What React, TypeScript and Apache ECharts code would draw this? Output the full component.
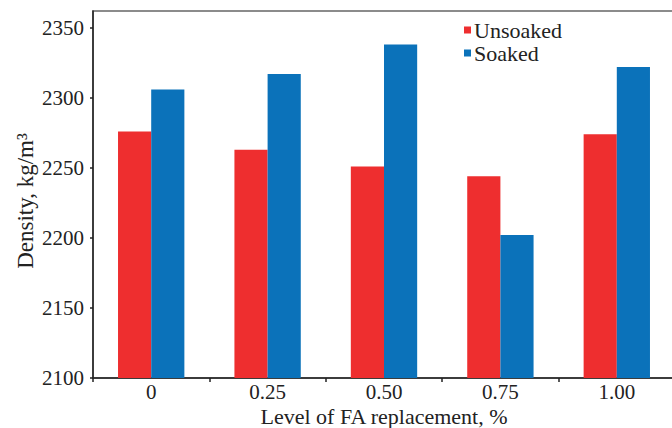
import React, { useEffect, useRef } from "react";
import * as echarts from "echarts";

const categories = ["0", "0.25", "0.50", "0.75", "1.00"];
const unsoaked = [2276, 2263, 2251, 2244, 2274];
const soaked = [2306, 2317, 2338, 2202, 2322];
const yTicks = [2100, 2150, 2200, 2250, 2300, 2350];

const FONT = "'Liberation Serif', 'DejaVu Serif', serif";

export default function App() {
  const ref = useRef<HTMLDivElement>(null);
  useEffect(() => {
    if (!ref.current) return;
    const chart = echarts.init(ref.current, null, { renderer: "svg" });
    chart.setOption({
      animation: false,
      backgroundColor: "#fff",
      textStyle: { fontFamily: FONT },
      grid: {
        left: 93,
        top: 11,
        width: 582,
        bottom: 50,
        outerBoundsMode: "none",
        containLabel: false,
        show: true,
        borderColor: "#666",
        borderWidth: 1.5,
        backgroundColor: "#fff",
      },
      legend: {
        orient: "vertical",
        left: 464,
        top: 19,
        padding: 0,
        itemWidth: 7,
        itemHeight: 7,
        itemGap: 1,
        icon: "rect",
        textStyle: { fontFamily: FONT, fontSize: 22, color: "#222", padding: [0, 0, 0, -2] },
        data: ["Unsoaked", "Soaked"],
      },
      xAxis: {
        type: "category",
        data: categories,
        axisLine: { lineStyle: { color: "#222", width: 1.5 } },
        axisTick: { show: true, length: 4, lineStyle: { color: "#222", width: 1.5 } },
        axisLabel: { fontFamily: FONT, fontSize: 21, color: "#222", margin: 3, lineHeight: 21 },
      },
      yAxis: {
        type: "value",
        min: 2100,
        max: 2362,
        interval: 50,
        splitLine: { show: false },
        axisLine: { show: true, lineStyle: { color: "#222", width: 1.5 } },
        axisTick: { show: true, length: 3, lineStyle: { color: "#222", width: 1.5 }, customValues: yTicks },
        axisLabel: {
          fontFamily: FONT,
          fontSize: 21,
          color: "#222",
          margin: 9,
          customValues: yTicks,
          formatter: (v: number) => (yTicks.includes(v) ? String(v) : ""),
        },
      },
      graphic: [
        {
          type: "text",
          x: 25,
          y: 201,
          rotation: Math.PI / 2,
          style: {
            text: "Density, kg/m³",
            fontFamily: FONT,
            fontSize: 23,
            fill: "#222",
            textAlign: "center",
            textVerticalAlign: "middle",
          },
        },
        {
          type: "text",
          x: 384,
          y: 416,
          style: {
            text: "Level of FA replacement, %",
            fontFamily: FONT,
            fontSize: 22,
            lineHeight: 22,
            fill: "#222",
            textAlign: "center",
            textVerticalAlign: "middle",
          },
        },
      ],
      series: [
        {
          name: "Unsoaked",
          type: "bar",
          data: unsoaked,
          barGap: "0%",
          barCategoryGap: "43%",
          itemStyle: { color: "#EE2E2F" },
        },
        {
          name: "Soaked",
          type: "bar",
          data: soaked,
          barGap: "0%",
          barCategoryGap: "43%",
          itemStyle: { color: "#0B72BA" },
        },
      ],
    });
    return () => chart.dispose();
  }, []);
  return (
    <div
      ref={ref}
      style={{ position: "absolute", left: 0, top: 0, width: 672, height: 428 }}
    />
  );
}
